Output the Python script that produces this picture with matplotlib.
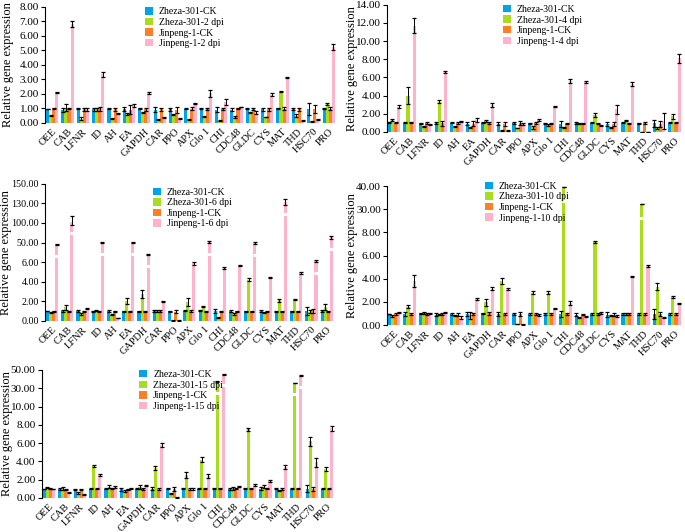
"""Relative expression of 19 genes in Zheza-301 and Jinpeng-1 at 2-15 dpi."""

import matplotlib
matplotlib.use("Agg")
import matplotlib.pyplot as plt
import numpy as np

plt.rcParams.update({
    "font.family": "Liberation Serif",
    "axes.linewidth": 0.8,
})

GENES = ["OEE", "CAB", "LFNR", "ID", "AH", "EA", "GAPDH", "CAR", "PPO", "APX",
         "Glo 1", "CHI", "CDC48", "GLDC", "CYS", "MAT", "THD", "HSC70", "PRO"]
COLORS = ["#00A2E8", "#A8DC1C", "#FF7F27", "#FFB3CB"]

# ── 2 dpi ─────────────────────────────────────────────────────────────
z_ck_2 = [0.95, 0.90, 0.98, 0.95, 0.98, 0.95, 1.00, 0.92, 0.95, 0.97, 0.97, 0.92, 0.92, 0.98, 0.95, 1.00, 0.95, 0.95, 1.00]
z_inf_2 = [0.50, 1.05, 0.30, 0.95, 0.30, 0.60, 0.72, 0.22, 0.60, 0.25, 0.42, 0.15, 0.42, 0.70, 0.40, 2.15, 0.50, 0.10, 1.30]
j_ck_2 = [1.00, 1.00, 0.95, 0.95, 0.95, 0.90, 0.95, 0.95, 0.90, 0.97, 0.97, 0.97, 1.00, 0.95, 0.95, 0.97, 0.95, 0.95, 0.97]
j_inf_2 = [2.10, 6.80, 0.90, 3.35, 0.65, 1.20, 2.05, 0.35, 0.32, 1.35, 2.05, 1.45, 1.10, 0.70, 1.95, 3.15, 0.15, 0.25, 5.25]
z_ck_2_err = [0.02, 0.15, 0.05, 0.10, 0.05, 0.15, 0.05, 0.15, 0.10, 0.03, 0.03, 0.20, 0.10, 0.05, 0.10, 0.05, 0.08, 0.40, 0.05]
z_inf_2_err = [0.02, 0.25, 0.10, 0.10, 0.03, 0.05, 0.03, 0.02, 0.03, 0.02, 0.03, 0.03, 0.05, 0.03, 0.02, 0.02, 0.10, 0.03, 0.08]
j_ck_2_err = [0.05, 0.05, 0.10, 0.15, 0.10, 0.30, 0.10, 0.10, 0.20, 0.10, 0.05, 0.05, 0.05, 0.05, 0.10, 0.10, 0.10, 0.25, 0.10]
j_inf_2_err = [0.03, 0.20, 0.10, 0.15, 0.05, 0.10, 0.05, 0.03, 0.03, 0.03, 0.25, 0.20, 0.03, 0.10, 0.10, 0.05, 0.03, 0.02, 0.20]

# ── 4 dpi ─────────────────────────────────────────────────────────────
z_ck_4 = [1.00, 1.00, 0.95, 0.95, 1.00, 0.90, 1.00, 0.90, 0.95, 0.95, 0.90, 0.85, 1.00, 1.00, 0.90, 1.00, 0.95, 0.95, 1.00]
z_inf_4 = [1.30, 4.00, 0.60, 3.35, 0.60, 0.50, 1.20, 0.15, 0.45, 0.50, 0.75, 0.50, 0.90, 1.85, 0.50, 1.25, 0.00, 0.40, 1.70]
j_ck_4 = [1.00, 1.00, 0.95, 0.95, 1.00, 0.90, 0.95, 0.90, 0.95, 0.95, 0.95, 0.90, 0.95, 0.95, 0.90, 0.95, 0.95, 0.85, 1.00]
j_inf_4 = [2.80, 11.70, 0.85, 6.60, 1.15, 1.30, 2.95, 0.15, 0.90, 1.35, 2.85, 5.60, 5.50, 0.75, 2.50, 5.30, 0.00, 1.20, 8.10]
z_ck_4_err = [0.05, 0.05, 0.05, 0.10, 0.05, 0.15, 0.05, 0.15, 0.10, 0.05, 0.05, 0.30, 0.10, 0.05, 0.20, 0.05, 0.05, 0.40, 0.05]
z_inf_4_err = [0.10, 0.90, 0.05, 0.20, 0.05, 0.05, 0.15, 0.02, 0.03, 0.20, 0.10, 0.05, 0.05, 0.25, 0.05, 0.10, 0.00, 0.10, 0.30]
j_ck_4_err = [0.05, 0.05, 0.10, 0.30, 0.10, 0.30, 0.10, 0.20, 0.20, 0.10, 0.05, 0.05, 0.05, 0.05, 0.20, 0.05, 0.10, 0.30, 0.05]
j_inf_4_err = [0.20, 0.80, 0.05, 0.10, 0.05, 0.20, 0.20, 0.03, 0.10, 0.10, 0.05, 0.20, 0.15, 0.05, 0.50, 0.20, 0.00, 0.90, 0.50]

# ── 6 dpi (broken axis) ───────────────────────────────────────────────
z_ck_6 = [1.00, 1.00, 1.00, 1.00, 1.00, 1.00, 1.00, 1.00, 1.00, 1.05, 1.05, 1.00, 1.00, 1.00, 1.00, 1.00, 1.00, 1.00, 1.00]
z_inf_6 = [0.85, 1.40, 0.70, 1.05, 0.60, 2.05, 2.70, 1.05, 0.05, 1.95, 1.45, 0.35, 0.65, 4.20, 0.80, 2.10, 2.15, 0.95, 1.45]
j_ck_6 = [1.00, 1.00, 1.00, 1.00, 1.00, 1.00, 1.00, 1.05, 0.95, 1.00, 1.00, 1.00, 1.00, 1.00, 1.00, 1.00, 1.00, 1.00, 1.00]
j_inf_6 = [46.5, 102.0, 1.30, 51.0, 0.30, 50.0, 23.6, 1.95, 0.05, 5.90, 51.0, 5.35, 5.70, 48.7, 4.40, 131.0, 4.85, 8.60, 63.0]
z_ck_6_err = [0.03, 0.10, 0.10, 0.05, 0.10, 0.05, 0.05, 0.10, 0.05, 0.05, 0.05, 0.20, 0.10, 0.05, 0.10, 0.05, 0.05, 0.40, 0.10]
z_inf_6_err = [0.05, 0.25, 0.10, 0.05, 0.05, 0.30, 0.40, 0.10, 0.02, 0.40, 0.05, 0.05, 0.10, 0.15, 0.05, 0.15, 0.05, 0.20, 0.30]
j_ck_6_err = [0.05, 0.05, 0.05, 0.05, 0.05, 0.05, 0.05, 0.10, 0.20, 0.10, 0.05, 0.05, 0.05, 0.05, 0.05, 0.05, 0.05, 0.20, 0.05]
j_inf_6_err = [1.00, 8.00, 0.05, 1.00, 0.03, 0.50, 1.00, 0.05, 0.02, 0.20, 2.00, 0.10, 0.05, 2.00, 0.05, 3.00, 0.10, 1.50, 3.00]

# ── 10 dpi (broken axis) ──────────────────────────────────────────────
z_ck_10 = [0.95, 0.95, 1.00, 0.90, 0.95, 0.95, 1.00, 0.95, 0.95, 0.95, 0.95, 0.95, 0.90, 0.95, 0.90, 0.95, 0.95, 0.95, 0.95]
z_inf_10 = [0.80, 1.60, 1.05, 0.90, 0.85, 0.85, 1.95, 3.80, 0.10, 2.80, 2.80, 39.7, 0.65, 7.20, 0.80, 0.95, 32.4, 3.30, 2.45]
j_ck_10 = [0.95, 0.95, 0.95, 0.95, 0.90, 0.95, 1.00, 0.95, 0.95, 0.95, 0.95, 0.95, 0.90, 0.95, 0.90, 0.95, 0.95, 0.95, 0.95]
j_inf_10 = [1.10, 3.80, 1.00, 1.10, 0.65, 2.25, 3.15, 3.10, 0.05, 0.85, 1.45, 1.90, 0.75, 1.05, 0.80, 4.20, 5.10, 0.65, 1.85]
z_ck_10_err = [0.03, 0.15, 0.05, 0.10, 0.05, 0.20, 0.05, 0.20, 0.05, 0.05, 0.05, 0.25, 0.10, 0.05, 0.20, 0.05, 0.05, 0.40, 0.05]
z_inf_10_err = [0.10, 0.15, 0.10, 0.05, 0.05, 0.30, 0.30, 0.25, 0.02, 0.15, 0.10, 0.10, 0.05, 0.10, 0.05, 0.05, 0.10, 0.30, 0.10]
j_ck_10_err = [0.05, 0.05, 0.05, 0.05, 0.10, 0.05, 0.10, 0.10, 0.15, 0.10, 0.05, 0.05, 0.05, 0.05, 0.10, 0.10, 0.10, 0.20, 0.10]
j_inf_10_err = [0.05, 0.55, 0.05, 0.05, 0.10, 0.05, 0.10, 0.10, 0.02, 0.10, 0.05, 0.20, 0.05, 0.10, 0.10, 0.05, 0.10, 0.05, 0.05]

# ── 15 dpi (broken axis) ──────────────────────────────────────────────
z_ck_15 = [1.00, 1.00, 0.95, 1.00, 1.00, 0.95, 1.00, 1.00, 1.00, 1.00, 1.00, 1.00, 1.00, 1.00, 1.00, 1.00, 1.00, 1.00, 1.00]
z_inf_15 = [1.10, 1.00, 0.55, 3.50, 1.25, 0.75, 1.20, 3.30, 0.50, 2.50, 4.20, 37.3, 1.00, 7.50, 1.25, 0.80, 35.8, 6.20, 3.20]
j_ck_15 = [1.00, 0.95, 0.95, 1.00, 1.00, 0.95, 1.00, 1.00, 1.00, 0.95, 1.00, 1.00, 1.00, 1.00, 1.00, 0.95, 1.00, 0.95, 1.00]
j_inf_15 = [1.00, 0.60, 0.40, 2.50, 1.20, 1.05, 1.35, 5.80, 0.05, 0.95, 2.40, 45.3, 1.25, 1.45, 1.85, 3.35, 43.8, 3.90, 7.60]
z_ck_15_err = [0.03, 0.10, 0.05, 0.05, 0.05, 0.15, 0.05, 0.15, 0.05, 0.05, 0.05, 0.05, 0.10, 0.05, 0.15, 0.05, 0.05, 0.40, 0.05]
z_inf_15_err = [0.05, 0.15, 0.10, 0.10, 0.15, 0.10, 0.20, 0.20, 0.05, 0.30, 0.25, 0.30, 0.15, 0.20, 0.15, 0.05, 0.30, 0.50, 0.20]
j_ck_15_err = [0.05, 0.05, 0.05, 0.05, 0.05, 0.05, 0.10, 0.10, 0.20, 0.10, 0.05, 0.05, 0.05, 0.05, 0.05, 0.10, 0.05, 0.20, 0.05]
j_inf_15_err = [0.03, 0.05, 0.05, 0.15, 0.10, 0.05, 0.05, 0.20, 0.02, 0.10, 0.20, 0.30, 0.10, 0.10, 0.15, 0.20, 0.30, 0.50, 0.30]

TICKS_2 = [0, 1, 2, 3, 4, 5, 6, 7, 8]
TICKS_4 = [0, 2, 4, 6, 8, 10, 12, 14]
TICKS_6 = [0, 2, 4, 6, 50, 100, 130, 150]
TICKS_10 = [0, 2, 4, 6, 8, 30, 40]
TICKS_15 = [0, 2, 4, 6, 8, 10, 30, 50]

PANELS = [
    # dpi, series, errors, ticks, last linear tick, axes rect, legend anchor,
    # ylabel right edge (fig fraction), tick label size
    (2, [z_ck_2, z_inf_2, j_ck_2, j_inf_2],
     [z_ck_2_err, z_inf_2_err, j_ck_2_err, j_inf_2_err],
     TICKS_2, None, [0.066, 0.769, 0.425, 0.218], (0.33, 1.03), 0.020, 8),
    (4, [z_ck_4, z_inf_4, j_ck_4, j_inf_4],
     [z_ck_4_err, z_inf_4_err, j_ck_4_err, j_inf_4_err],
     TICKS_4, None, [0.565, 0.752, 0.431, 0.239], (0.38, 1.03), 0.523, 8),
    (6, [z_ck_6, z_inf_6, j_ck_6, j_inf_6],
     [z_ck_6_err, z_inf_6_err, j_ck_6_err, j_inf_6_err],
     TICKS_6, 6, [0.066, 0.397, 0.422, 0.2575], (0.36, 1.0), 0.017, 7.2),
    (10, [z_ck_10, z_inf_10, j_ck_10, j_inf_10],
     [z_ck_10_err, z_inf_10_err, j_ck_10_err, j_inf_10_err],
     TICKS_10, 8, [0.565, 0.389, 0.431, 0.261], (0.32, 1.06), 0.523, 8),
    (15, [z_ck_15, z_inf_15, j_ck_15, j_inf_15],
     [z_ck_15_err, z_inf_15_err, j_ck_15_err, j_inf_15_err],
     TICKS_15, 10, [0.061, 0.064, 0.428, 0.2406], (0.32, 1.03), 0.019, 8),
]


def piecewise_scale(ticks):
    """Equal spacing between listed ticks, linear inside each segment."""
    pos = np.arange(len(ticks), dtype=float)
    t = np.asarray(ticks, dtype=float)

    def forward(v):
        return np.interp(v, t, pos)

    def inverse(p):
        return np.interp(p, pos, t)

    return forward, inverse


def draw_panel(fig, dpi, series, errors, ticks, linear_top, rect, anchor,
               label_x, tick_size):
    ax = fig.add_axes(rect)
    x = np.arange(len(GENES))
    width = 0.2
    offsets = [-0.3, -0.1, 0.1, 0.3]
    labels = ["Zheza-301-CK", f"Zheza-301-{dpi} dpi",
              "Jinpeng-1-CK", f"Jinpeng-1-{dpi} dpi"]

    forward, inverse = piecewise_scale(ticks)
    if linear_top is not None:
        ax.set_yscale("function", functions=(forward, inverse))

    for vals, errs, off, col, lab in zip(series, errors, offsets, COLORS, labels):
        ax.bar(x + off, vals, width=width, color=col, label=lab,
               yerr=errs, error_kw=dict(ecolor="black", elinewidth=0.7,
                                        capsize=1.3, capthick=0.9))
        if linear_top is None:
            continue
        # axis-break marks on the bars that run past the linear part
        for xi, v in zip(x + off, vals):
            if v > linear_top:
                yb = inverse(forward(v) - 0.6)
                ax.plot([xi - width * 0.75, xi + width * 0.75], [yb, yb],
                        color="white", lw=2.2, solid_capstyle="butt", zorder=3)

    ax.set_ylim(0, ticks[-1])
    ax.set_yticks(ticks)
    ax.set_yticklabels([f"{t:.2f}" for t in ticks], fontsize=tick_size)
    ax.set_xlim(-0.45, len(GENES) - 0.5)
    ax.set_xticks(x)
    ax.set_xticklabels(GENES, rotation=45, ha="right", rotation_mode="anchor",
                       fontsize=7.5)
    ax.tick_params(axis="x", length=0, pad=3)
    ax.tick_params(axis="y", length=3, width=0.8, pad=1.5)
    for side in ("top", "right", "bottom"):
        ax.spines[side].set_visible(False)
    ax.set_ylabel("Relative gene expression", fontsize=9)
    # place the label's right edge at a fixed figure x
    ax.yaxis.set_label_coords((label_x - rect[0]) / rect[2], 0.5)
    ax.legend(loc="upper left", bbox_to_anchor=anchor, frameon=False,
              fontsize=7, handlelength=0.8, handleheight=0.8,
              handletextpad=0.6, labelspacing=0.15, borderaxespad=0)
    return ax


fig = plt.figure(figsize=(6.85, 5.32), dpi=100)
for panel in PANELS:
    draw_panel(fig, *panel)

fig.savefig("out.png", dpi=100)
plt.close(fig)
